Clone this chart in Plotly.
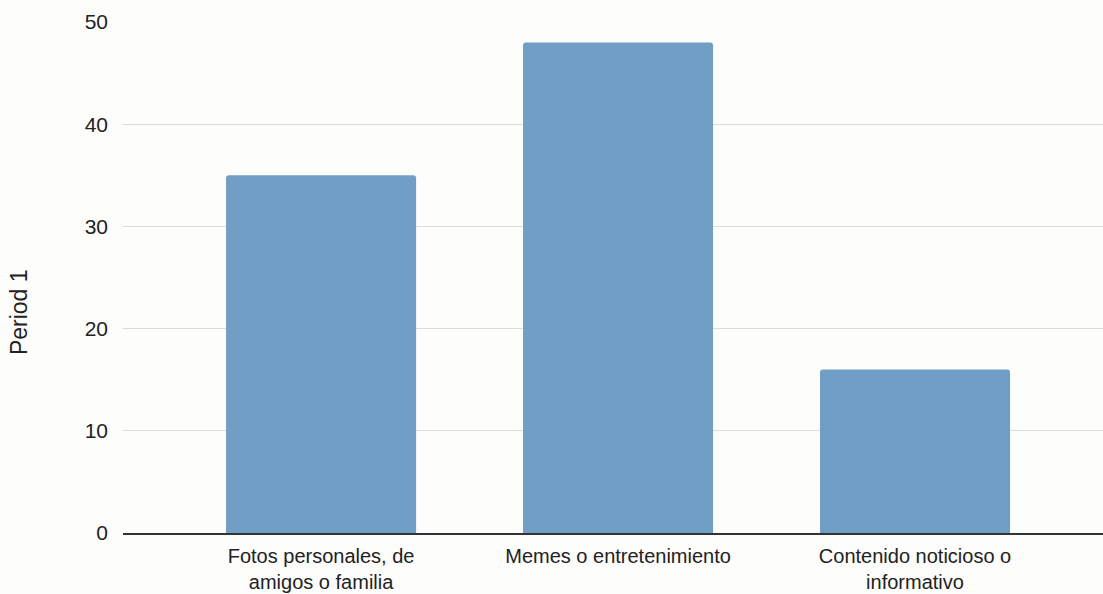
import plotly.graph_objects as go

categories = [
    "Fotos personales, de<br>amigos o familia",
    "Memes o entretenimiento",
    "Contenido noticioso o<br>informativo",
]
period_1 = [35, 48, 16]
y_ticks = [0, 10, 20, 30, 40, 50]

fig = go.Figure(
    go.Bar(
        x=list(range(len(categories))),
        y=period_1,
        marker=dict(color="#719ec4", line=dict(width=0)),
        width=0.64,
    )
)

fig.update_layout(
    width=1103,
    height=594,
    margin=dict(l=123, r=0, t=22, b=61),
    paper_bgcolor="#fdfdfc",
    plot_bgcolor="#fdfdfc",
    barcornerradius=3,
    showlegend=False,
    font=dict(family="Liberation Sans, Arial, sans-serif", size=21, color="#222222"),
)

fig.update_xaxes(
    range=[-0.667, 2.633],
    tickmode="array",
    tickvals=list(range(len(categories))),
    ticktext=categories,
    showgrid=False,
    showline=True,
    linecolor="#333333",
    linewidth=1.5,
    ticks="",
    ticklabelstandoff=4,
    tickfont=dict(size=20),
    zeroline=False,
    automargin=False,
)

fig.update_yaxes(
    range=[0, 50],
    tickmode="array",
    tickvals=y_ticks,
    showgrid=True,
    gridcolor="#dcdcd8",
    gridwidth=1,
    zeroline=False,
    ticks="",
    ticklabelstandoff=14,
    tickfont=dict(size=21),
    automargin=False,
)

# Y-axis title placed as a rotated annotation
fig.add_annotation(
    text="Period 1",
    xref="paper",
    yref="paper",
    x=-0.106,
    y=0.4325,
    xanchor="center",
    yanchor="middle",
    textangle=-90,
    showarrow=False,
    font=dict(size=23, color="#222222"),
)

fig.write_html("out.html")
